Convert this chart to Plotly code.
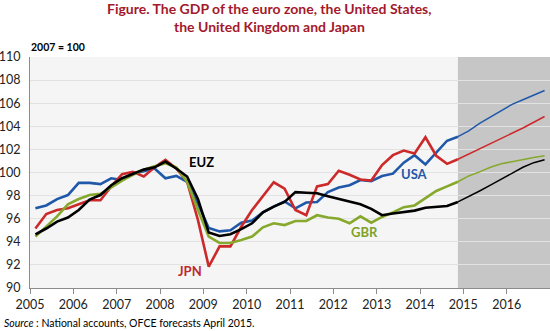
import pandas as pd
import plotly.graph_objects as go

# Quarterly GDP index, 2007 = 100 (forecasts from 2015Q1)
quarters = pd.period_range("2005Q1", "2016Q4", freq="Q")
last_actual = pd.Period("2014Q4", freq="Q")

usa = [96.9, 97.15, 97.7, 98.05, 99.1, 99.1, 99.0, 99.5, 99.35, 99.9, 100.1, 100.35,
       99.5, 99.7, 99.2, 97.3, 95.2, 94.9, 95.0, 95.65, 95.85, 96.55, 97.05, 97.5,
       96.9, 97.4, 97.45, 98.3, 98.7, 98.9, 99.35, 99.25, 99.7, 99.9, 100.85, 101.5,
       100.7, 101.7, 102.75, 103.1, 103.6, 104.25, 104.8, 105.4, 105.9, 106.3, 106.7, 107.1]

jpn = [95.15, 96.4, 96.75, 96.9, 97.25, 97.6, 97.6, 98.8, 99.85, 100.05, 99.65, 100.45,
       101.1, 100.35, 99.2, 95.9, 91.85, 93.6, 93.6, 95.3, 96.75, 98.0, 99.15, 98.6,
       96.75, 96.3, 98.8, 99.0, 100.15, 99.8, 99.4, 99.3, 100.65, 101.5, 101.9, 101.65,
       103.05, 101.45, 100.75, 101.15, 101.6, 102.0, 102.45, 102.9, 103.4, 103.85, 104.35, 104.85]

gbr = [94.45, 95.3, 96.2, 97.25, 97.7, 98.05, 98.15, 98.7, 99.3, 99.8, 100.25, 100.55,
       100.8, 100.45, 99.2, 96.75, 94.45, 93.9, 93.9, 94.15, 94.45, 95.25, 95.6, 95.45,
       95.8, 95.8, 96.3, 96.1, 96.0, 95.6, 96.2, 95.65, 96.15, 96.55, 97.0, 97.15,
       97.75, 98.4, 98.8, 99.2, 99.7, 100.05, 100.45, 100.75, 100.95, 101.15, 101.3, 101.45]

euz = [94.65, 95.15, 95.75, 96.1, 96.75, 97.65, 98.05, 98.9, 99.5, 99.85, 100.25, 100.45,
       100.95, 100.35, 99.65, 97.7, 94.8, 94.5, 94.65, 95.1, 95.6, 96.55, 97.05, 97.45,
       98.3, 98.25, 98.2, 97.95, 97.7, 97.45, 97.25, 96.85, 96.3, 96.45, 96.55, 96.7,
       96.95, 97.05, 97.1, 97.45, 97.9, 98.4, 98.9, 99.4, 99.9, 100.45, 100.85, 101.1]

series = [
    ("USA", usa, "#1f58a8"),
    ("JPN", jpn, "#cc2a2a"),
    ("GBR", gbr, "#86a82c"),
    ("EUZ", euz, "#000000"),
]

year_ticks = list(range(2005, 2017))
y_ticks = list(range(90, 111, 2))

# each quarter is plotted at the middle of its span on a fractional-year axis
xpos = [q.year + (q.quarter - 0.5) / 4 for q in quarters]
split = list(quarters).index(last_actual)
x_start = year_ticks[0]
x_end = year_ticks[-1] + 1

FONT = "Lato"

fig = go.Figure()

for name, vals, color in series:
    fig.add_trace(go.Scatter(
        x=xpos[:split + 1], y=vals[:split + 1], mode="lines", name=name,
        line=dict(color=color, width=2.6), showlegend=False, hoverinfo="skip"))
    fig.add_trace(go.Scatter(
        x=xpos[split:], y=vals[split:], mode="lines", name=name + " forecast",
        line=dict(color=color, width=1.5), showlegend=False, hoverinfo="skip"))

# forecast period shading
fig.add_shape(type="rect", xref="x", yref="paper", x0=xpos[split], x1=x_end,
              y0=0, y1=1, fillcolor="#c6c6c6", line=dict(width=0), layer="below")

labels = [
    ("EUZ", 2008.95, 100.87, "#000000"),
    ("JPN", 2008.69, 91.5, "#c0282d"),
    ("USA", 2013.88, 99.87, "#1f58a8"),
    ("GBR", 2012.72, 94.85, "#7fa22a"),
]
for text, lx, ly, color in labels:
    fig.add_annotation(x=lx, y=ly, xref="x", yref="y", text="<b>%s</b>" % text,
                       xanchor="center", yanchor="middle", showarrow=False,
                       font=dict(family=FONT, size=13, color=color))

title_color = "#a3192b"
fig.add_annotation(x=0.4615, y=1.208, xref="paper", yref="paper",
                   xanchor="center", yanchor="middle",
                   text="<b>Figure. The GDP of the euro zone, the United States,</b>",
                   showarrow=False, font=dict(family=FONT, size=14, color=title_color))
fig.add_annotation(x=0.4615, y=1.134, xref="paper", yref="paper",
                   xanchor="center", yanchor="middle",
                   text="<b>the United Kingdom and Japan</b>",
                   showarrow=False, font=dict(family=FONT, size=14, color=title_color))
fig.add_annotation(x=-0.002, y=1.045, xref="paper", yref="paper",
                   xanchor="left", yanchor="middle",
                   text="<b>2007 = 100</b>", showarrow=False,
                   font=dict(family=FONT, size=10.5, color="#000000"))
fig.add_annotation(x=-0.054, y=-0.153, xref="paper", yref="paper",
                   xanchor="left", yanchor="middle",
                   text="<i>Source</i> : National accounts, OFCE forecasts April 2015.",
                   showarrow=False, font=dict(family=FONT, size=10.5, color="#000000"))

fig.update_layout(
    width=550, height=331,
    margin=dict(l=30, r=0, t=57, b=43),
    paper_bgcolor="#ffffff",
    plot_bgcolor="#f5f5f5",
    font=dict(family=FONT, size=12, color="#222222"),
    xaxis=dict(range=[x_start, x_end], tickvals=year_ticks,
               ticktext=[str(y) for y in year_ticks],
               showgrid=False, zeroline=False, showline=True, linecolor="#8c8c8c",
               linewidth=1, ticks="outside", ticklen=5, tickcolor="#8c8c8c",
               tickfont=dict(family=FONT, size=12.5, color="#222222")),
    yaxis=dict(range=[90, 110], tickvals=y_ticks, showgrid=True,
               gridcolor="#e2e2e2", gridwidth=1, zeroline=False, showline=True,
               linecolor="#8c8c8c", linewidth=1, ticks="", ticklabelstandoff=6,
               tickfont=dict(family=FONT, size=12.5, color="#222222")),
)

fig.write_html("out.html")
